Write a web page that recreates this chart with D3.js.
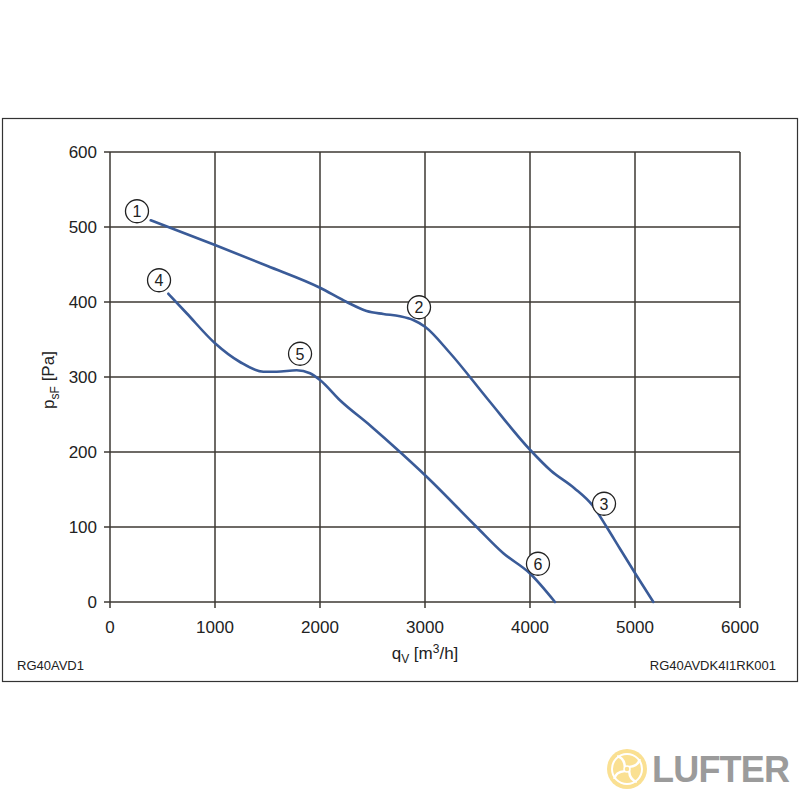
<!DOCTYPE html>
<html>
<head>
<meta charset="utf-8">
<script src="https://cdn.jsdelivr.net/npm/d3@7"></script>
<style>
  body { margin: 0; background: #fff; }
  svg { display: block; font-family: "Liberation Sans", Arial, sans-serif; }
</style>
</head>
<body>
<div id="chart"></div>
<script>
// axis ticks
const xTicks = [0, 1000, 2000, 3000, 4000, 5000, 6000];
const yTicks = [0, 100, 200, 300, 400, 500, 600];

// characteristic curves: [qV m3/h, psF Pa]
const curveUpper = [
  [388, 509], [1000, 476], [1500, 448], [2000, 419], [2254, 400], [2444, 388],
  [2603, 384], [2762, 381], [2888, 376], [3000, 367], [3238, 332], [3600, 270],
  [4000, 203], [4200, 175], [4420, 152], [4600, 128], [4730, 100],
  [4857, 71], [5016, 35], [5175, 0]
];
const curveLower = [
  [556, 411], [730, 385], [1000, 345], [1238, 320], [1460, 307], [1587, 307],
  [1778, 309], [1905, 305], [2000, 296], [2190, 269], [2480, 235], [2762, 200],
  [3016, 167], [3492, 100], [3746, 65], [4000, 38], [4238, 0]
];

// circled operating point markers
const markers = [
  { n: "1", q: 257, p: 521 },
  { n: "2", q: 2943, p: 393 },
  { n: "3", q: 4705, p: 131 },
  { n: "4", q: 467, p: 429 },
  { n: "5", q: 1810, p: 331 },
  { n: "6", q: 4076, p: 51 }
];

const width = 800, height = 800;
const svg = d3.select("#chart").append("svg")
  .attr("width", width)
  .attr("height", height);

// outer frame
svg.append("rect")
  .attr("x", 2.5).attr("y", 118.5)
  .attr("width", 795).attr("height", 563)
  .attr("fill", "none")
  .attr("stroke", "#333")
  .attr("stroke-width", 1.2);

const x = d3.scaleLinear().domain([0, 6000]).range([110, 740]);
const y = d3.scaleLinear().domain([0, 600]).range([602, 152]);

const gridColor = "#3d3833";

// grid
const grid = svg.append("g").attr("stroke", gridColor).attr("stroke-width", 1.5);
grid.selectAll("line.v").data(xTicks).join("line")
  .attr("x1", d => x(d)).attr("x2", d => x(d))
  .attr("y1", y(600)).attr("y2", y(0) + 6);
grid.selectAll("line.h").data(yTicks).join("line")
  .attr("x1", x(0) - 6).attr("x2", x(6000))
  .attr("y1", d => y(d)).attr("y2", d => y(d));

// tick labels
svg.append("g").selectAll("text").data(yTicks).join("text")
  .attr("x", x(0) - 13)
  .attr("y", d => y(d))
  .attr("dy", "0.36em")
  .attr("text-anchor", "end")
  .attr("font-size", 17)
  .attr("fill", "#222")
  .text(d => d);
svg.append("g").selectAll("text").data(xTicks).join("text")
  .attr("x", d => x(d))
  .attr("y", y(0) + 31)
  .attr("text-anchor", "middle")
  .attr("font-size", 17)
  .attr("fill", "#222")
  .text(d => d);

// axis titles
const yt = svg.append("text")
  .attr("transform", "translate(54,380) rotate(-90)")
  .attr("text-anchor", "middle")
  .attr("font-size", 17)
  .attr("fill", "#222");
yt.append("tspan").text("p");
yt.append("tspan").attr("font-size", 12).attr("dy", 5).text("sF");
yt.append("tspan").attr("dy", -5).text(" [Pa]");

const xt = svg.append("text")
  .attr("x", 425).attr("y", 659)
  .attr("text-anchor", "middle")
  .attr("font-size", 17)
  .attr("fill", "#222");
xt.append("tspan").text("q");
xt.append("tspan").attr("font-size", 12).attr("dy", 4).text("V");
xt.append("tspan").attr("dy", -4).text(" [m");
xt.append("tspan").attr("font-size", 12).attr("dy", -6).text("3");
xt.append("tspan").attr("dy", 6).text("/h]");

// curves
const line = d3.line()
  .x(d => x(d[0]))
  .y(d => y(d[1]))
  .curve(d3.curveMonotoneX);
svg.append("g").selectAll("path").data([curveUpper, curveLower]).join("path")
  .attr("d", line)
  .attr("fill", "none")
  .attr("stroke", "#3a5b98")
  .attr("stroke-width", 2.6)
  .attr("stroke-linecap", "round");

// markers
const mk = svg.append("g").selectAll("g").data(markers).join("g")
  .attr("transform", d => `translate(${x(d.q)},${y(d.p)})`);
mk.append("circle")
  .attr("r", 11.5)
  .attr("fill", "#fff")
  .attr("stroke", "#222")
  .attr("stroke-width", 1.3);
mk.append("text")
  .attr("text-anchor", "middle")
  .attr("dy", "0.36em")
  .attr("font-size", 16)
  .attr("fill", "#222")
  .text(d => d.n);

// footer codes
svg.append("text")
  .attr("x", 17).attr("y", 670)
  .attr("font-size", 13)
  .attr("fill", "#222")
  .text("RG40AVD1");
svg.append("text")
  .attr("x", 776).attr("y", 670)
  .attr("text-anchor", "end")
  .attr("font-size", 13)
  .attr("fill", "#222")
  .text("RG40AVDK4I1RK001");

// watermark logo
const logo = svg.append("g").attr("transform", "translate(627,769)").attr("opacity", 0.75);
logo.append("circle").attr("r", 20).attr("fill", "#f9d66e");
logo.append("circle").attr("r", 15).attr("fill", "none").attr("stroke", "#fff").attr("stroke-width", 2);
[0, 90, 180, 270].forEach(a => {
  logo.append("path")
    .attr("d", "M0,-3 Q6,-10 2,-16")
    .attr("transform", `rotate(${a + 45})`)
    .attr("fill", "none")
    .attr("stroke", "#fff")
    .attr("stroke-width", 2.5);
});
logo.append("circle").attr("r", 3).attr("fill", "none").attr("stroke", "#fff").attr("stroke-width", 1.5);
svg.append("text")
  .attr("x", 652).attr("y", 782)
  .attr("font-size", 36)
  .attr("font-weight", "bold")
  .attr("fill", "#8a8a8a")
  .attr("opacity", 0.85)
  .attr("textLength", 138)
  .text("LUFTER");
</script>
</body>
</html>
